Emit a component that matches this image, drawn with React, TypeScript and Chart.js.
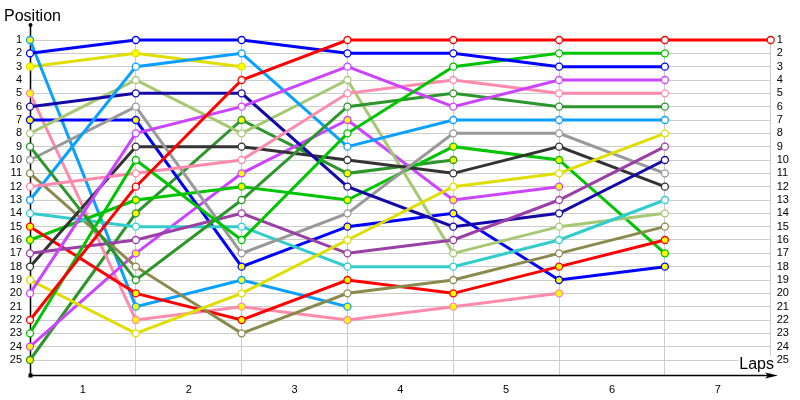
import { useEffect, useRef } from 'react';
import { Chart, registerables } from 'chart.js';

Chart.register(...registerables);

// ---- data ----
const laps = [0, 1, 2, 3, 4, 5, 6, 7];
const lapLabels = ['1', '2', '3', '4', '5', '6', '7'];
const positionTicks = [1, 2, 3, 4, 5, 6, 7, 8, 9, 10, 11, 12, 13, 14, 15, 16, 17, 18, 19, 20, 21, 22, 23, 24, 25];

// position per lap (index = lap)
const red22 = [22, 12, 4, 1, 1, 1, 1, 1];
const blue2 = [2, 1, 1, 2, 2, 3, 3];
const green23 = [23, 10, 16, 8, 3, 2, 2];
const violet20 = [20, 8, 6, 3, 6, 4, 4];
const pink12 = [12, 11, 10, 5, 4, 5, 5];
const forest9 = [9, 19, 13, 6, 5, 6, 6];
const ltblue13 = [13, 3, 2, 9, 7, 7, 7];
const yellow19 = [19, 23, 20, 16, 12, 11, 8];
const purple17 = [17, 16, 14, 17, 16, 13, 9];
const navy6 = [6, 5, 5, 12, 15, 14, 10];
const gray10 = [10, 6, 17, 14, 8, 8, 11];
const dark18 = [18, 9, 9, 10, 11, 9, 12];
const turq14 = [14, 15, 15, 18, 18, 16, 13];
const lime8 = [8, 4, 8, 4, 17, 15, 14];
const olive11 = [11, 18, 23, 20, 19, 17, 15];
const red15 = [15, 20, 22, 19, 20, 18, 16];
const green16 = [16, 13, 12, 13, 9, 10, 17];
const blue7 = [7, 7, 18, 15, 14, 19, 18];
const violet24 = [24, 17, 11, 7, 13, 12];
const pink5 = [5, 22, 21, 22, 21, 20];
const forest25 = [25, 14, 7, 11, 10];
const ltblue1 = [1, 21, 19, 21];
const yellow3 = [3, 2, 3];

// ---- styles ----
const C = {
  red: '#FF0000', blue: '#0000FF', green: '#00C400', violet: '#CC44FF', pink: '#FF8AAB',
  forest: '#2C962C', ltblue: '#0AA0FF', yellow: '#DEDE00', purple: '#9A3FA6', navy: '#1409A8',
  gray: '#999999', dark: '#333333', turq: '#33CCCC', lime: '#A6C873', olive: '#8A8A4E',
};
const FILL_Y = '#FFFF00';
const FILL_W = '#FFFFFF';

const series: [number[], string, string][] = [
  [red22, C.red, FILL_W],
  [blue2, C.blue, FILL_W],
  [green23, C.green, FILL_W],
  [violet20, C.violet, FILL_W],
  [pink12, C.pink, FILL_W],
  [forest9, C.forest, FILL_W],
  [ltblue13, C.ltblue, FILL_W],
  [yellow19, C.yellow, FILL_W],
  [purple17, C.purple, FILL_W],
  [navy6, C.navy, FILL_W],
  [gray10, C.gray, FILL_W],
  [dark18, C.dark, FILL_W],
  [turq14, C.turq, FILL_W],
  [lime8, C.lime, FILL_W],
  [olive11, C.olive, FILL_W],
  [red15, C.red, FILL_Y],
  [green16, C.green, FILL_Y],
  [blue7, C.blue, FILL_Y],
  [violet24, C.violet, FILL_Y],
  [pink5, C.pink, FILL_Y],
  [forest25, C.forest, FILL_Y],
  [ltblue1, C.ltblue, FILL_Y],
  [yellow3, C.yellow, FILL_Y],
];

const FONT = 'Tahoma, "DejaVu Sans", sans-serif';
const TICK_FONT = { family: '"Liberation Sans", Arial, sans-serif', size: 11 };

const axesPlugin = {
  id: 'axesDecor',
  beforeDatasetsDraw(chart: any) {
    const { ctx, chartArea } = chart;
    const x0 = Math.round(chartArea.left) + 0.5;
    const yb = Math.round(chartArea.bottom) + 0.5;
    ctx.save();
    ctx.strokeStyle = '#000';
    ctx.fillStyle = '#000';
    ctx.lineWidth = 1.5;
    // y axis
    ctx.beginPath();
    ctx.moveTo(x0, 25);
    ctx.lineTo(x0, yb);
    ctx.stroke();
    ctx.beginPath();
    ctx.arc(x0, 25, 2, 0, Math.PI * 2);
    ctx.fill();
    ctx.fillRect(x0 - 2, yb - 2, 4, 4);
    // x axis
    ctx.beginPath();
    ctx.moveTo(x0, yb);
    ctx.lineTo(770, yb);
    ctx.stroke();
    ctx.beginPath();
    ctx.moveTo(778, yb);
    ctx.lineTo(765, yb - 3);
    ctx.lineTo(768, yb);
    ctx.lineTo(765, yb + 3);
    ctx.closePath();
    ctx.fill();
    ctx.restore();
  },
  afterDraw(chart: any) {
    const { ctx } = chart;
    ctx.save();
    ctx.fillStyle = '#000';
    ctx.font = '16px ' + '"Liberation Sans", Arial, sans-serif';
    ctx.textBaseline = 'alphabetic';
    ctx.textAlign = 'left';
    ctx.fillText('Position', 4, 21);
    ctx.textAlign = 'right';
    const w = ctx.measureText('Laps').width;
    ctx.fillStyle = '#fff';
    ctx.fillRect(774 - w - 1, 356, w + 2, 16);
    ctx.fillStyle = '#000';
    ctx.fillText('Laps', 774, 369);
    ctx.restore();
  },
};

export default function App() {
  const ref = useRef<HTMLCanvasElement | null>(null);
  useEffect(() => {
    if (!ref.current) return;
    const datasets = series.map(([vals, color, fill]) => ({
      data: vals.map((p, i) => ({ x: laps[i], y: p })),
      borderColor: color,
      backgroundColor: color,
      borderWidth: 3,
      pointRadius: 3.5,
      pointBorderWidth: 1.3,
      pointBorderColor: color,
      pointBackgroundColor: fill,
      tension: 0,
      clip: false as any,
      xAxisID: 'x',
      yAxisID: 'y',
    }));
    const chart = new Chart(ref.current, {
      type: 'line',
      data: { datasets },
      plugins: [axesPlugin],
      options: {
        animation: false,
        responsive: false,
        devicePixelRatio: 1,
        events: [],
        layout: { padding: { top: 40, left: 0, right: 0, bottom: 0 } },
        plugins: { legend: { display: false }, tooltip: { enabled: false } },
        scales: {
          x: {
            type: 'linear',
            position: 'bottom',
            min: 0,
            max: 7,
            ticks: { display: false, stepSize: 1 },
            grid: { color: '#CCCCCC', drawTicks: false, lineWidth: 1 },
            border: { display: false },
            afterFit: (s: any) => { s.height = 0; },
          },
          xl: {
            type: 'category',
            position: 'bottom',
            labels: lapLabels,
            offset: true,
            grid: { display: false, drawTicks: false },
            border: { display: false },
            ticks: { color: '#000', font: TICK_FONT, padding: 8, maxRotation: 0, autoSkip: false },
            afterFit: (s: any) => { s.height = 25; },
          },
          y: {
            type: 'linear',
            position: 'left',
            reverse: true,
            min: 1,
            max: 26.125,
            afterBuildTicks: (a: any) => { a.ticks = positionTicks.map((v) => ({ value: v })); },
            ticks: { color: '#000', font: TICK_FONT, padding: 8, autoSkip: false },
            grid: { color: '#CCCCCC', drawTicks: false, lineWidth: 1 },
            border: { display: false },
            afterFit: (s: any) => { s.width = 30; },
          },
          y2: {
            type: 'linear',
            position: 'right',
            reverse: true,
            min: 1,
            max: 26.125,
            afterBuildTicks: (a: any) => { a.ticks = positionTicks.map((v) => ({ value: v })); },
            ticks: { color: '#000', font: TICK_FONT, padding: 6, autoSkip: false },
            grid: { display: false, drawTicks: false },
            border: { display: false },
            afterFit: (s: any) => { s.width = 29.3; },
          },
        },
      } as any,
    });
    return () => chart.destroy();
  }, []);
  return (
    <div style={{ position: 'fixed', left: 0, top: 0, width: 800, height: 400, background: '#fff' }}>
      <canvas ref={ref} width={800} height={400} style={{ display: 'block', width: 800, height: 400 }} />
    </div>
  );
}
